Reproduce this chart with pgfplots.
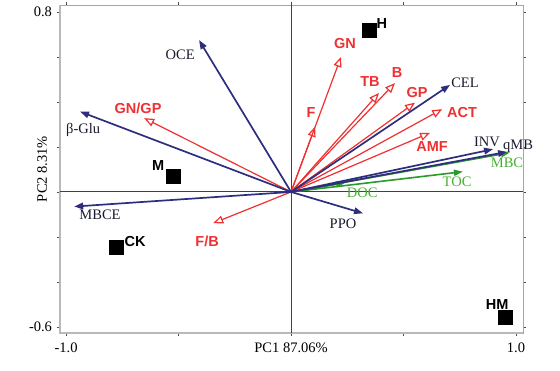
\documentclass[border=0pt]{standalone}
\usepackage{fontspec}
\setmainfont{Liberation Serif}
\newfontfamily\sansb{Liberation Sans}
\usepackage{pgfplots}
\pgfplotsset{compat=1.18}
\usetikzlibrary{arrows.meta}
\definecolor{bl}{RGB}{46,46,126}
\definecolor{rd}{RGB}{240,48,48}
\definecolor{gr}{RGB}{42,154,42}
\definecolor{grl}{RGB}{70,175,50}
\definecolor{bt}{RGB}{25,25,45}
\begin{document}
\begin{tikzpicture}
\fontsize{14.5}{16}\selectfont
\useasboundingbox (0,0) rectangle (560pt,371pt);
\begin{axis}[
  at={(60pt,38pt)}, anchor=south west,
  scale only axis, width=463pt, height=328pt,
  xmin=-1.027, xmax=1.031, ymin=-0.627, ymax=0.831,
  clip=false,
  axis line style={draw=gray!70, line width=0.9pt},
  tick align=outside, tick style={draw=black!70, line width=0.6pt},
  major tick length=3pt,
  xtick={-1,-0.5,0,0.5,1},
  xticklabels={-1.0,,PC1 87.06\%,,1.0},
  ytick={-0.6,-0.4,-0.2,0,0.2,0.4,0.6,0.8},
  yticklabels={-0.6,,,,,,,0.8},
  /pgf/number format/assume math mode=true,
  ticklabel style={font=\fontsize{14.5}{16}\selectfont},
  xticklabel style={yshift=-2pt},
  ylabel={PC2 8.31\%},
  ylabel style={font=\fontsize{14.5}{16}\selectfont, yshift=-28pt},
]
% heavier left and bottom frame
\draw[gray!55, line width=2.6pt] (rel axis cs:0,1) -- (rel axis cs:0,0) -- (rel axis cs:1,0);
% zero lines
\addplot[black!75, line width=0.9pt] coordinates {(-1.027,0) (1.031,0)};
\addplot[black!75, line width=0.9pt] coordinates {(0,-0.627) (0,0.831)};
% red arrows
\pgfplotsset{redarr/.style={rd, line width=1.2pt, -{Triangle[open,length=10pt,width=8pt]}}}
\addplot[redarr] coordinates {(0,0) (-0.653,0.328)};
\addplot[redarr] coordinates {(0,0) (-0.346,-0.139)};
\addplot[redarr] coordinates {(0,0) (0.222,0.600)};
\addplot[redarr] coordinates {(0,0) (0.107,0.290)};
\addplot[redarr] coordinates {(0,0) (0.391,0.440)};
\addplot[redarr] coordinates {(0,0) (0.462,0.484)};
\addplot[redarr] coordinates {(0,0) (0.551,0.397)};
\addplot[redarr] coordinates {(0,0) (0.672,0.368)};
\addplot[redarr] coordinates {(0,0) (0.618,0.263)};
% green arrows
\pgfplotsset{grarr/.style={gr, line width=1.6pt, -{Triangle[length=9pt,width=6pt]}}}
\addplot[grarr] coordinates {(0,0) (0.973,0.175)};
\addplot[grarr] coordinates {(0,0) (0.764,0.090)};
\addplot[grarr] coordinates {(0,0) (0.240,0.040)};
% blue arrows
\pgfplotsset{blarr/.style={bl, line width=1.7pt, -{Triangle[length=9pt,width=6.5pt]}}}
\addplot[blarr] coordinates {(0,0) (-0.409,0.675)};
\addplot[blarr] coordinates {(0,0) (-0.938,0.357)};
\addplot[blarr] coordinates {(0,0) (-0.964,-0.065)};
\addplot[blarr] coordinates {(0,0) (0.320,-0.095)};
\addplot[blarr] coordinates {(0,0) (0.707,0.476)};
\addplot[blarr] coordinates {(0,0) (0.898,0.190)};
\addplot[blarr] coordinates {(0,0) (0.960,0.178)};
% samples
\addplot[only marks, mark=square*, mark size=7pt, black] coordinates {(-0.526,0.072) (-0.775,-0.247) (0.347,0.717) (0.950,-0.555)};
% labels
\begin{scope}[every node/.style={font=\fontsize{14.5}{16}\selectfont, inner sep=0pt}]
\node[bt] at (axis cs:-0.493,0.609) {OCE};
\node[bt] at (axis cs:-0.924,0.276) {β-Glu};
\node[bt] at (axis cs:-0.849,-0.102) {MBCE};
\node[bt] at (axis cs:0.231,-0.142) {PPO};
\node[bt] at (axis cs:0.773,0.484) {CEL};
\node[bt] at (axis cs:0.871,0.222) {INV};
\node[bt, anchor=west] at (axis cs:0.942,0.205) {qMB};
\node[grl] at (axis cs:0.960,0.129) {MBC};
\node[grl] at (axis cs:0.738,0.044) {TOC};
\node[grl] at (axis cs:0.316,-0.004) {DOC};
\node[rd, font=\sansb\bfseries\fontsize{14.5}{16}\selectfont] at (axis cs:-0.680,0.373) {GN/GP};
\node[rd, font=\sansb\bfseries\fontsize{14.5}{16}\selectfont] at (axis cs:-0.373,-0.218) {F/B};
\node[rd, font=\sansb\bfseries\fontsize{14.5}{16}\selectfont] at (axis cs:0.240,0.662) {GN};
\node[rd, font=\sansb\bfseries\fontsize{14.5}{16}\selectfont] at (axis cs:0.089,0.351) {F};
\node[rd, font=\sansb\bfseries\fontsize{14.5}{16}\selectfont] at (axis cs:0.351,0.489) {TB};
\node[rd, font=\sansb\bfseries\fontsize{14.5}{16}\selectfont] at (axis cs:0.471,0.529) {B};
\node[rd, font=\sansb\bfseries\fontsize{14.5}{16}\selectfont] at (axis cs:0.560,0.440) {GP};
\node[rd, font=\sansb\bfseries\fontsize{14.5}{16}\selectfont] at (axis cs:0.760,0.351) {ACT};
\node[rd, font=\sansb\bfseries\fontsize{14.5}{16}\selectfont] at (axis cs:0.627,0.200) {AMF};
\node[black, font=\sansb\bfseries\fontsize{14.5}{16}\selectfont] at (axis cs:-0.591,0.116) {M};
\node[black, font=\sansb\bfseries\fontsize{14.5}{16}\selectfont] at (axis cs:-0.693,-0.221) {CK};
\node[black, font=\sansb\bfseries\fontsize{14.5}{16}\selectfont] at (axis cs:0.404,0.747) {H};
\node[black, font=\sansb\bfseries\fontsize{14.5}{16}\selectfont] at (axis cs:0.916,-0.502) {HM};
\end{scope}
\end{axis}
\end{tikzpicture}
\end{document}
